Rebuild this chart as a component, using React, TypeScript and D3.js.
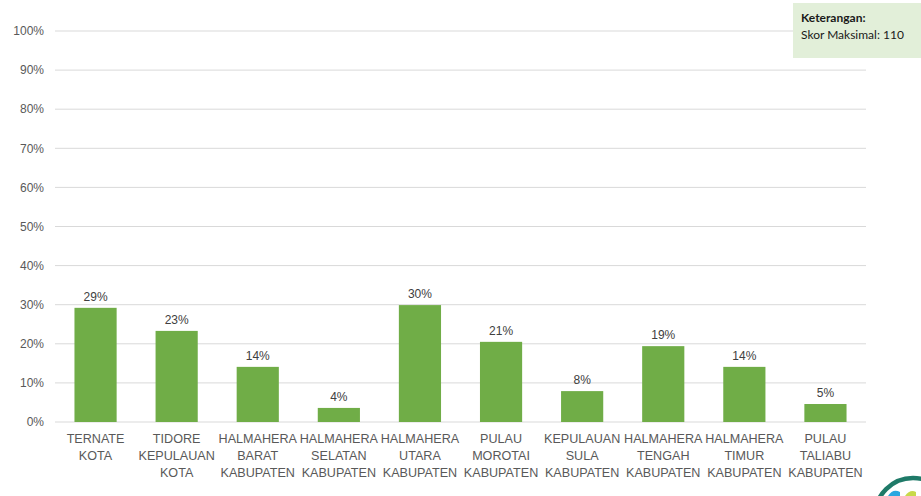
import React from "react";
import * as d3 from "d3";

const categories: string[][] = [
  ["TERNATE", "KOTA"],
  ["TIDORE", "KEPULAUAN", "KOTA"],
  ["HALMAHERA", "BARAT", "KABUPATEN"],
  ["HALMAHERA", "SELATAN", "KABUPATEN"],
  ["HALMAHERA", "UTARA", "KABUPATEN"],
  ["PULAU", "MOROTAI", "KABUPATEN"],
  ["KEPULAUAN", "SULA", "KABUPATEN"],
  ["HALMAHERA", "TENGAH", "KABUPATEN"],
  ["HALMAHERA", "TIMUR", "KABUPATEN"],
  ["PULAU", "TALIABU", "KABUPATEN"],
];
const values: number[] = [29.2, 23.3, 14.1, 3.6, 29.9, 20.5, 7.9, 19.4, 14.1, 4.6];
const valueLabels: string[] = ["29%", "23%", "14%", "4%", "30%", "21%", "8%", "19%", "14%", "5%"];
const yTicks: number[] = [0, 10, 20, 30, 40, 50, 60, 70, 80, 90, 100];
const legendTitle = "Keterangan:";
const legendText = "Skor Maksimal: 110";

const W = 921;
const H = 496;
const left = 55;
const right = 866;
const top = 31;
const bottom = 422;
const font = "'Liberation Sans', Arial, sans-serif";
const textColor = "#595959";

export default function App() {
  const x = d3
    .scaleBand<number>()
    .domain(d3.range(categories.length))
    .range([left, right])
    .paddingInner(0.48)
    .paddingOuter(0.24);
  const y = d3.scaleLinear().domain([0, 100]).range([bottom, top]);

  return (
    <svg
      width={W}
      height={H}
      style={{ position: "absolute", left: 0, top: 0, background: "#fff" }}
    >
      {yTicks.map((t) => (
        <g key={t}>
          <line
            x1={left}
            x2={right}
            y1={y(t)}
            y2={y(t)}
            stroke="#d9d9d9"
            strokeWidth={1}
          />
          <text
            x={44}
            y={y(t)}
            dy="0.35em"
            textAnchor="end"
            fontFamily={font}
            fontSize={12}
            fill={textColor}
          >
            {t}%
          </text>
        </g>
      ))}
      {values.map((v, i) => (
        <g key={i}>
          <rect
            x={x(i)}
            y={y(v)}
            width={x.bandwidth()}
            height={y(0) - y(v)}
            fill="#70ad47"
          />
          <text
            x={(x(i) as number) + x.bandwidth() / 2}
            y={y(v) - 7}
            textAnchor="middle"
            fontFamily={font}
            fontSize={12}
            fill="#404040"
          >
            {valueLabels[i]}
          </text>
          <text
            x={(x(i) as number) + x.bandwidth() / 2}
            y={443}
            textAnchor="middle"
            fontFamily={font}
            fontSize={12.6}
            fill={textColor}
          >
            {categories[i].map((line, j) => (
              <tspan key={j} x={(x(i) as number) + x.bandwidth() / 2} dy={j === 0 ? 0 : 17}>
                {line}
              </tspan>
            ))}
          </text>
        </g>
      ))}
      <rect x={793} y={3} width={128} height={55} fill="#e2efd9" />
      <text x={801} y={22} fontFamily="Lato, 'Open Sans', sans-serif" fontSize={12} fontWeight="bold" fill="#1a1a1a">
        {legendTitle}
      </text>
      <text x={801} y={39} fontFamily="Lato, 'Open Sans', sans-serif" fontSize={12} fill="#1a1a1a">
        {legendText}
      </text>
      <circle cx={913} cy={516} r={38} fill="#fff" stroke="#1f7a68" strokeWidth={4.5} />
      <path d="M888,496 Q893,488 900,492 L900,496 Z" fill="#2aa7e0" />
      <path d="M905,496 Q910,489 916,492 L916,496 Z" fill="#c8d94a" />
    </svg>
  );
}
